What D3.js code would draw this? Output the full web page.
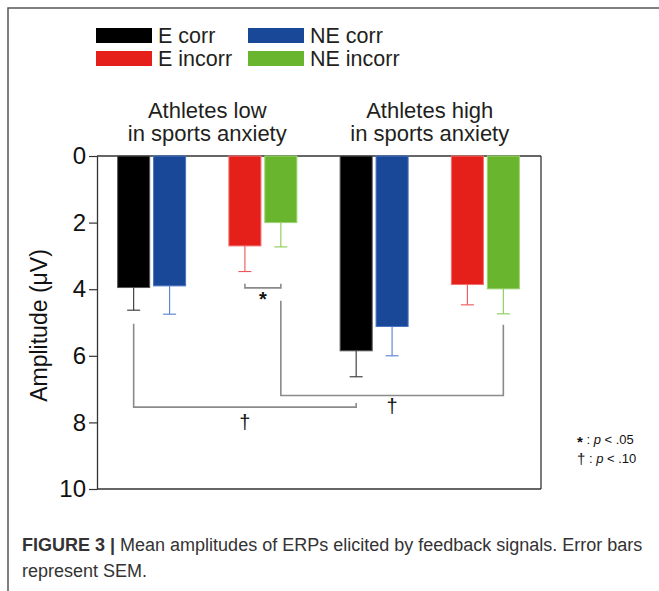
<!DOCTYPE html>
<html>
<head>
<meta charset="utf-8">
<script src="https://cdn.jsdelivr.net/npm/d3@7"></script>
<style>
  body { margin: 0; background: #fff; }
  svg { display: block; font-family: "Liberation Sans", Arial, sans-serif; }
</style>
</head>
<body>
<svg id="chart" width="659" height="591"></svg>
<script>
// data (amplitude in µV, plotted downward)
const cells = ["Low corr", "Low incorr", "High corr", "High incorr"];
const series = ["E", "NE"];
const eValues = [3.95, 2.70, 5.85, 3.86];
const neValues = [3.90, 2.00, 5.12, 3.99];
const eSem = [0.68, 0.77, 0.78, 0.61];
const neSem = [0.85, 0.73, 0.88, 0.75];
const yTicks = [0, 2, 4, 6, 8, 10];
const legendLabels = [["E corr", "NE corr"], ["E incorr", "NE incorr"]];
const groupTitles = [["Athletes low", "in sports anxiety"], ["Athletes high", "in sports anxiety"]];
// significance brackets: [cell, series] ends, bar level, tick tops, label
const brackets = [
  {a: [1, "E"], b: [1, "NE"], y: 3.96, topA: 3.84, topB: 3.84, label: "*", labelY: 4.3},
  {a: [0, "E"], b: [2, "E"], y: 7.54, topA: 5.04, topB: 7.42, label: "\u2020", labelY: 7.99},
  {a: [1, "NE"], b: [3, "NE"], y: 7.19, topA: 4.35, topB: 5.07, label: "\u2020", labelY: 7.5}
];

const fill = {E: ["#000000", "#e5201b"], NE: ["#1a4899", "#6ab52e"]};
const edge = {E: ["#555555", "#f07070"], NE: ["#4a74c0", "#9ad470"]};
const errCol = {E: ["#333333", "#f05555"], NE: ["#5580d0", "#88cc55"]};

const svg = d3.select("#chart");

// outer frame (left and top rules)
svg.append("path")
  .attr("d", "M8,591 V8 H659")
  .attr("fill", "none").attr("stroke", "#555").attr("stroke-width", 1.5);

const x = d3.scaleBand().domain(cells).range([96, 541]).paddingInner(0.38).paddingOuter(0.19);
const xs = d3.scaleBand().domain(series).range([0, x.bandwidth()]).paddingInner(0.08);
const y = d3.scaleLinear().domain([0, 10]).range([156, 489]);

const rows = [];
cells.forEach((c, i) => {
  rows.push({cell: c, s: "E", v: eValues[i], sem: eSem[i], k: i % 2});
  rows.push({cell: c, s: "NE", v: neValues[i], sem: neSem[i], k: i % 2});
});
const cx = (ci, s) => x(cells[ci]) + xs(s) + xs.bandwidth() / 2;

// box
svg.append("line").attr("x1", 97).attr("x2", 541).attr("y1", y(0)).attr("y2", y(0))
  .attr("stroke", "#333").attr("stroke-width", 1.3);
svg.append("line").attr("x1", 97).attr("x2", 541).attr("y1", y(10)).attr("y2", y(10))
  .attr("stroke", "#333").attr("stroke-width", 1.3);
svg.append("line").attr("x1", 541).attr("x2", 541).attr("y1", y(0)).attr("y2", y(10))
  .attr("stroke", "#333").attr("stroke-width", 1.3);

// bars
svg.append("g").selectAll("rect").data(rows).enter().append("rect")
  .attr("x", d => x(d.cell) + xs(d.s) + 0.5)
  .attr("y", y(0))
  .attr("width", xs.bandwidth() - 1)
  .attr("height", d => y(d.v) - y(0))
  .attr("fill", d => fill[d.s][d.k])
  .attr("stroke", d => edge[d.s][d.k])
  .attr("stroke-width", 1);

// error bars (downward only)
const eg = svg.append("g").attr("stroke-width", 1.1);
rows.forEach(d => {
  const c = x(d.cell) + xs(d.s) + xs.bandwidth() / 2;
  const col = errCol[d.s][d.k];
  eg.append("line").attr("x1", c).attr("x2", c).attr("y1", y(d.v)).attr("y2", y(d.v + d.sem)).attr("stroke", col);
  eg.append("line").attr("x1", c - 6.5).attr("x2", c + 6.5).attr("y1", y(d.v + d.sem)).attr("y2", y(d.v + d.sem)).attr("stroke", col);
});

// y axis
const yAxis = svg.append("g").attr("transform", "translate(97,0)")
  .call(d3.axisLeft(y).tickValues(yTicks).tickSize(8).tickPadding(3).tickSizeOuter(0));
yAxis.select(".domain").attr("stroke", "#333").attr("stroke-width", 1.3);
yAxis.selectAll(".tick line").attr("stroke", "#333").attr("stroke-width", 1.2);
yAxis.selectAll(".tick text").attr("font-size", 24).attr("fill", "#111")
  .attr("font-family", "'Liberation Sans', Arial, sans-serif");

svg.append("text")
  .attr("transform", `translate(47,${(y(0) + y(10)) / 2 + 3}) rotate(-90)`)
  .attr("text-anchor", "middle")
  .attr("font-size", 23).attr("fill", "#111")
  .text("Amplitude (\u03bcV)");

// brackets
const bg = svg.append("g");
brackets.forEach(b => {
  const xa = cx(b.a[0], b.a[1]), xb = cx(b.b[0], b.b[1]);
  bg.append("path")
    .attr("d", `M${xa},${y(b.topA)} V${y(b.y)} H${xb} V${y(b.topB)}`)
    .attr("fill", "none").attr("stroke", "#8a8a8a").attr("stroke-width", 1.6);
  bg.append("text")
    .attr("x", (xa + xb) / 2).attr("y", y(b.labelY))
    .attr("text-anchor", "middle").attr("dominant-baseline", "central")
    .attr("font-size", 20)
    .attr("font-weight", b.label === "*" ? "bold" : "normal")
    .attr("fill", "#111")
    .text(b.label);
});

// group titles
groupTitles.forEach((t, i) => {
  const mid = (x(cells[i * 2]) + x(cells[i * 2 + 1]) + x.bandwidth()) / 2;
  t.forEach((line, j) => {
    svg.append("text").attr("text-anchor", "middle").attr("font-size", 22).attr("fill", "#231f20")
      .attr("x", mid).attr("y", 118 + j * 23).text(line);
  });
});

// legend
const lg = svg.append("g");
legendLabels.forEach((row, r) => {
  row.forEach((lab, c) => {
    const s = series[c];
    const lx = 96 + c * 152, ly = 28 + r * 23;
    lg.append("rect").attr("x", lx).attr("y", ly).attr("width", 56).attr("height", 15)
      .attr("fill", fill[s][r]);
    lg.append("text").attr("x", lx + 62).attr("y", ly + 15).attr("font-size", 21.5).attr("fill", "#231f20").text(lab);
  });
});

// significance key
const key = [["*", ".05"], ["\u2020", ".10"]];
key.forEach((k, i) => {
  const t = svg.append("text").attr("x", 577).attr("y", 444 + i * 19).attr("font-size", 13).attr("fill", "#111");
  t.append("tspan").attr("font-size", 15).attr("font-weight", k[0] === "*" ? "bold" : "normal")
    .attr("dy", k[0] === "*" ? 3 : 1).text(k[0]);
  t.append("tspan").attr("dy", k[0] === "*" ? -3 : -1).text(" : ");
  t.append("tspan").attr("font-style", "italic").text("p");
  t.append("tspan").text(" < " + k[1]);
});

// caption
const cap = svg.append("text").attr("x", 22).attr("y", 551).attr("font-size", 18).attr("fill", "#333");
cap.append("tspan").attr("font-weight", "bold").text("FIGURE 3 | ");
cap.append("tspan").text("Mean amplitudes of ERPs elicited by feedback signals. Error bars");
svg.append("text").attr("x", 22).attr("y", 577).attr("font-size", 18).attr("fill", "#333")
  .text("represent SEM.");
</script>
</body>
</html>
